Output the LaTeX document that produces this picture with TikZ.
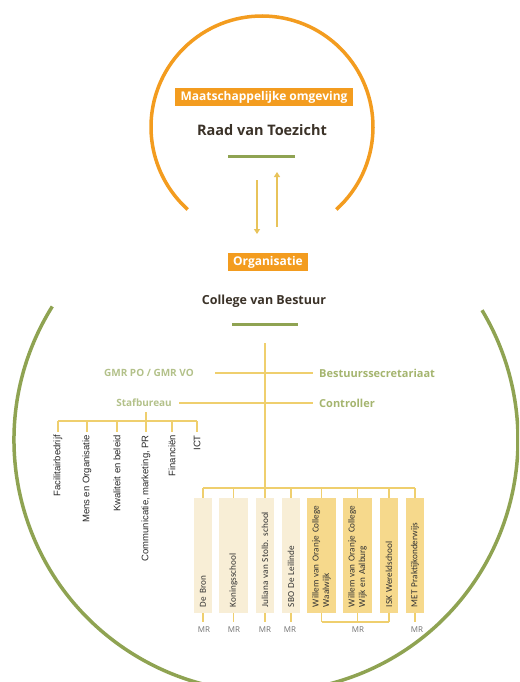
\documentclass[tikz,border=0pt]{standalone}
\usepackage{fontspec}
\setmainfont{Open Sans}
\newfontfamily\boxfont{Carlito}
\newfontfamily\deptfont{Liberation Sans}
\usetikzlibrary{arrows.meta}
\definecolor{orangeA}{HTML}{F39C1F}
\definecolor{darkT}{HTML}{3B3228}
\definecolor{greenA}{HTML}{8FA352}
\definecolor{greenT}{HTML}{A5B56F}
\definecolor{greenL}{HTML}{B3C18A}
\definecolor{goldL}{HTML}{EFCF6E}
\definecolor{goldA}{HTML}{E8C35A}
\definecolor{creamB}{HTML}{F8EED6}
\definecolor{yellowB}{HTML}{F6D98C}
\definecolor{grayT}{HTML}{707070}
\tikzset{
  tag/.style={fill=orangeA, text=white, inner sep=0pt, font=\bfseries\fontsize{12}{14}\selectfont},
  head/.style={text=darkT, inner sep=0pt, font=\bfseries\fontsize{14.5}{17}\selectfont},
  greenbar/.style={draw=greenA, line width=3pt},
  bigarc/.style={line width=3.5pt},
  goldarrow/.style={draw=goldA, line width=1.2pt, -{Triangle[width=6pt,length=5pt]}},
  goldline/.style={draw=goldL, line width=1.4pt},
  glabel/.style={text=greenT, inner sep=0pt, font=\bfseries\fontsize{11}{13}\selectfont},
  glabelS/.style={text=greenL, inner sep=0pt, font=\bfseries\fontsize{10}{12}\selectfont},
  dept/.style={text=black!85, inner sep=0pt, rotate=90, anchor=east, font=\deptfont\fontsize{9.5}{11}\selectfont},
  school/.style={rotate=90, minimum width=115pt, inner xsep=6pt, inner ysep=0pt, text width=103pt, align=left, text=black!80, font=\boxfont\fontsize{9.2}{10.5}\selectfont},
  creambox/.style={school, fill=creamB, minimum height=18pt},
  creamwide/.style={school, fill=creamB, minimum height=29pt},
  yellowbox/.style={school, fill=yellowB, minimum height=18pt},
  yellowwide/.style={school, fill=yellowB, minimum height=29pt},
  mr/.style={text=grayT, inner sep=0pt, font=\fontsize{8}{9}\selectfont}
}
\begin{document}
\begin{tikzpicture}[x=1pt,y=1pt]
\useasboundingbox (0,0) rectangle (519,-682);
\clip (0,0) rectangle (519,-682);

% arcs
\draw[bigarc, draw=orangeA] (262,-127) ++(-48:111) arc[start angle=-48, end angle=228, radius=111];
\draw[bigarc, draw=greenA] (266,-440) ++(148:252) arc[start angle=148, end angle=391, radius=252];

% top part
\node[tag, minimum width=178pt, minimum height=18pt] (maat) at (264,-97) {Maatschappelijke omgeving};
\node[head] (rvt) at (262,-130) {Raad van Toezicht};
\coordinate (b1l) at (228,-156);
\coordinate (b1r) at (295,-156);
\draw[greenbar] (b1l) -- (b1r);
\coordinate (d1) at (257,-180);
\coordinate (d2) at (257,-234);
\coordinate (u1) at (277,-227);
\coordinate (u2) at (277,-172);
\draw[goldarrow] (d1) -- (d2);
\draw[goldarrow] (u1) -- (u2);

\node[tag, minimum width=80pt, minimum height=18pt] (org) at (268,-262) {Organisatie};
\node[head, font=\bfseries\fontsize{12.5}{15}\selectfont] (cvb) at (264,-301) {College van Bestuur};
\coordinate (b2l) at (232,-324);
\coordinate (b2r) at (298,-324);
\draw[greenbar] (b2l) -- (b2r);

% side labels
\node[glabelS, anchor=east] (gmr) at (194,-373) {GMR PO / GMR VO};
\node[glabel, anchor=west] (bss) at (319,-373) {Bestuurssecretariaat};
\node[glabelS, anchor=east] (staf) at (172,-403) {Stafbureau};
\node[glabel, anchor=west] (ctrl) at (319,-403) {Controller};
\coordinate (gl) at (215,-373);
\coordinate (gr) at (313,-373);
\coordinate (sl) at (179,-403);
\coordinate (sr) at (313,-403);
\draw[goldline] (gl) -- (gr);
\draw[goldline] (sl) -- (sr);

% staff departments
\coordinate (st0) at (146,-412);
\coordinate (st1) at (146,-421);
\draw[goldline] (st0) -- (st1);
\coordinate (dbl) at (58,-421);
\coordinate (dbr) at (197,-421);
\draw[goldline] (dbl) -- (dbr);
\node[dept] (dp1) at (58,-435) {Facilitairbedrijf};
\node[dept] (dp2) at (87,-435) {Mens en Organisatie};
\node[dept] (dp3) at (117,-435) {Kwaliteit en beleid};
\node[dept] (dp4) at (146,-435) {Communicatie, marketing, PR};
\node[dept] (dp5) at (172,-435) {Financiën};
\node[dept] (dp6) at (197,-435) {ICT};
\foreach \d/\x in {dp1/58,dp2/87,dp3/117,dp4/146,dp5/172,dp6/197}{
  \coordinate (t\d) at (\x,-421);
  \draw[goldline] (t\d) -- ([yshift=3pt]\d.east);
}

% schools
\node[creambox] (s1) at (203,-555.5) {De Bron};
\node[creamwide] (s2) at (233.5,-555.5) {Koningsschool};
\node[creambox] (s3) at (265,-555.5) {Juliana van Stolb. school};
\node[creambox] (s4) at (291,-555.5) {SBO De Leilinde};
\node[yellowwide] (s5) at (321.5,-555.5) {Willem van Oranje College\\Waalwijk};
\node[yellowwide] (s6) at (357.5,-555.5) {Willem van Oranje College\\Wijk en Aalburg};
\node[yellowbox] (s7) at (389,-555.5) {ISK Wereldschool};
\node[yellowbox] (s8) at (415,-555.5) {MET Praktijkonderwijs};

% main trunk and bus (rotated boxes: east = top, west = bottom)
\coordinate (trunk) at (265,-343);
\draw[goldline] (trunk) -- (s3.east);
\coordinate (busl) at (203,-488);
\coordinate (busr) at (415,-488);
\draw[goldline] (busl) -- (busr);
\foreach \s/\x in {s1/203,s2/233.5,s4/291,s5/321.5,s6/357.5,s7/389,s8/415}{
  \coordinate (b\s) at (\x,-488);
  \draw[goldline] (b\s) -- (\s.east);
}

% MR
\foreach \s/\x in {s1/203,s2/233.5,s3/265,s4/291,s5/321.5,s6/357.5,s7/389,s8/415}{
  \coordinate (m\s) at (\x,-622);
  \draw[goldline] (\s.west) -- (m\s);
}
\draw[goldline] (ms5) -- (ms7);
\node[mr] (mr1) at (204,-629.5) {MR};
\node[mr] (mr2) at (234,-629.5) {MR};
\node[mr] (mr3) at (265,-629.5) {MR};
\node[mr] (mr4) at (290,-629.5) {MR};
\node[mr] (mr5) at (358,-629.5) {MR};
\node[mr] (mr6) at (417,-629.5) {MR};
\end{tikzpicture}
\end{document}
